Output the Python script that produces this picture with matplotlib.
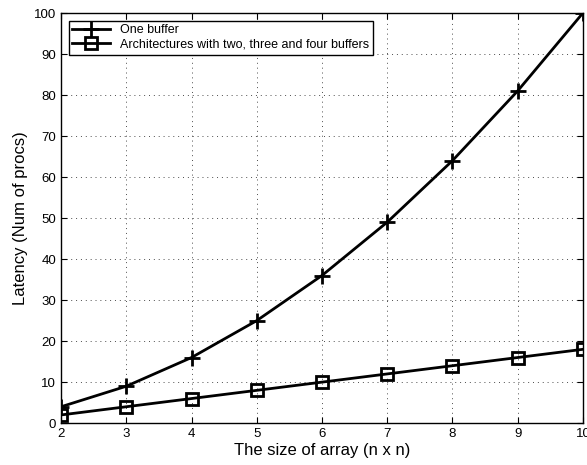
import matplotlib
matplotlib.use("Agg")
import matplotlib.pyplot as plt

# array size n (n x n)
sizes = [2, 3, 4, 5, 6, 7, 8, 9, 10]
one_buffer = [4, 9, 16, 25, 36, 49, 64, 81, 100]
multi_buffer = [2, 4, 6, 8, 10, 12, 14, 16, 18]

plt.rcParams['font.family'] = ['Liberation Sans', 'DejaVu Sans']

fig = plt.figure(figsize=(5.87, 4.65), dpi=100)
ax = fig.add_axes([0.104, 0.090, 0.889, 0.882])

ax.plot(sizes, one_buffer, color='black', lw=2, marker='+', ms=11, mew=2,
        label='One buffer')
ax.plot(sizes, multi_buffer, color='black', lw=2, marker='s', ms=8, mew=2,
        mfc='none', label='Architectures with two, three and four buffers')

ax.set_xlim(2, 10)
ax.set_ylim(0, 100)
ax.set_xticks(range(2, 11))
ax.set_yticks(range(0, 101, 10))
ax.tick_params(direction='in', labelsize=9.5, length=4, top=True, right=True)
ax.grid(True, linestyle=(0, (1, 4)), color='black', lw=0.7, alpha=0.7)
for s in ax.spines.values():
    s.set_linewidth(1)

ax.set_xlabel('The size of array (n x n)', fontsize=12, labelpad=2)
ax.set_ylabel('Latency (Num of procs)', fontsize=12, labelpad=4)

leg = ax.legend(loc='upper left', fontsize=9, fancybox=False, framealpha=1,
                edgecolor='black', borderpad=0.3, handlelength=3,
                labelspacing=0.2, borderaxespad=0.6)
leg.get_frame().set_linewidth(1)

fig.savefig('out.png', dpi=100)
